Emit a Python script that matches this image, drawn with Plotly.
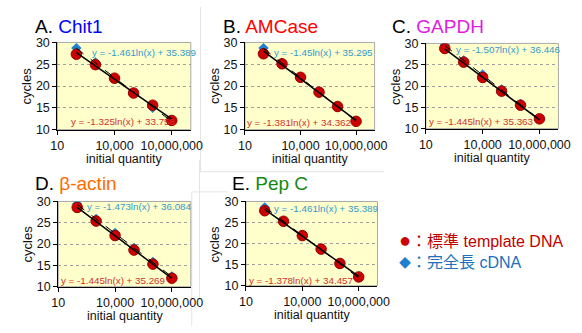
import math
import plotly.graph_objects as go

W, H = 582, 333

quantity = [100, 1000, 10000, 100000, 1000000, 10000000]

panel_letters = ["A.", "B.", "C.", "D.", "E."]
panel_genes = ["Chit1", "AMCase", "GAPDH", "β-actin", "Pep C"]
gene_colors = ["#0000FF", "#FF0000", "#E020E0", "#FF6A00", "#138A13"]

std_A = [27.3, 24.9, 21.8, 18.4, 15.6, 12.1]
std_B = [27.4, 25.1, 22.0, 18.6, 15.3, 11.9]
std_C = [28.8, 25.6, 22.0, 18.8, 15.5, 12.3]
std_D = [28.6, 25.4, 22.0, 18.6, 15.3, 12.0]
std_E = [27.8, 25.3, 21.9, 18.7, 15.3, 12.1]

cdna_A = [28.7, 25.4, 21.8, 18.4, 15.0, 12.0]
cdna_B = [28.7, 25.2, 21.9, 18.6, 15.2, 11.9]
cdna_C = [29.6, 26.0, 22.7, 19.2, 15.8, 12.2]
cdna_D = [29.4, 25.9, 22.6, 19.1, 15.8, 12.4]
cdna_E = [28.6, 25.2, 21.9, 18.6, 15.2, 12.0]

slope_std = [-1.325, -1.381, -1.445, -1.445, -1.378]
icpt_std = [33.758, 34.362, 35.363, 35.269, 34.457]
slope_cdna = [-1.461, -1.45, -1.507, -1.473, -1.461]
icpt_cdna = [35.389, 35.295, 36.446, 36.084, 35.389]

x_tick_vals = [10, 10000, 10000000]
x_tick_text = ["10", "10,000", "10,000,000"]
y_tick_vals = [10, 15, 20, 25, 30]

legend_std = "標準 template DNA"
legend_cdna = "完全長 cDNA"

std_series = [std_A, std_B, std_C, std_D, std_E]
cdna_series = [cdna_A, cdna_B, cdna_C, cdna_D, cdna_E]

FONT = "Liberation Sans, Arial, Noto Sans CJK JP, sans-serif"

# layout geometry in pixels: plot area boxes (left, right, top, bottom)
boxes = [(52, 190, 37, 128), (246, 380, 37, 128), (433, 570, 38, 127),
         (53, 190, 203, 292), (247, 383, 203, 291)]
title_pos = [(27, 20), (221, 20), (396, 20), (27, 184), (231, 184)]
eq_cdna_pos = [(86, 48), (274, 47), (462, 44), (81, 208), (274, 210)]
eq_std_pos = [(64, 120), (246, 121), (434, 120), (54, 285), (248, 285)]


def px(x):
    return x / W


def py(y):
    return 1 - y / H


fig = go.Figure()
annotations = []
shapes = []

# faint chart-area frames
frame_lines = [(200, 0, 200, 172), (200, 172, 390, 172), (199, 160, 199, 305),
               (191, 193, 191, 333), (191, 193, 228, 193)]
for x0, y0, x1, y1 in frame_lines:
    shapes.append(dict(type="line", xref="paper", yref="paper",
                       x0=px(x0), x1=px(x1), y0=py(y0), y1=py(y1),
                       line=dict(color="#e4e4e4", width=1), layer="below"))

for i in range(5):
    l, r, t, b = boxes[i]
    sfx = "" if i == 0 else str(i + 1)
    xa = "x" + sfx
    ya = "y" + sfx
    fig.update_layout(**{
        "xaxis" + sfx: dict(domain=[px(l), px(r)], anchor=ya, type="log",
                            range=[1, 8], tickvals=x_tick_vals, ticktext=x_tick_text,
                            showgrid=False, zeroline=False, showline=True,
                            linecolor="black", linewidth=1, ticks="outside",
                            ticklen=4, tickcolor="black",
                            tickfont=dict(family=FONT, size=12.5, color="#111")),
        "yaxis" + sfx: dict(domain=[py(b), py(t)], anchor=xa, range=[10, 30],
                            tickvals=y_tick_vals, showgrid=True, gridcolor="#a0a0a0",
                            griddash="dot", gridwidth=1, zeroline=False,
                            showline=True, linecolor="black", linewidth=1,
                            ticks="outside", ticklen=4, tickcolor="black",
                            tickfont=dict(family=FONT, size=12.5, color="#111")),
    })
    shapes.append(dict(type="rect", xref=xa + " domain", yref=ya + " domain",
                       x0=0, x1=1, y0=0, y1=1, fillcolor="#FFFFCC",
                       line=dict(color="#a8a8a8", width=1), layer="below"))

    # markers
    fig.add_trace(go.Scatter(x=quantity, y=cdna_series[i], mode="markers",
                             xaxis=xa, yaxis=ya, showlegend=False,
                             marker=dict(symbol="diamond", size=8, color="#1F7FD0",
                                         line=dict(width=0))))
    fig.add_trace(go.Scatter(x=quantity, y=std_series[i], mode="markers",
                             xaxis=xa, yaxis=ya, showlegend=False,
                             marker=dict(symbol="circle", size=10.5, color="#CC0000",
                                         line=dict(width=1, color="#990000"))))
    # trendlines from coefficients
    xs = [quantity[0], quantity[-1]]
    fig.add_trace(go.Scatter(x=xs, y=[slope_cdna[i] * math.log(v) + icpt_cdna[i] for v in xs],
                             mode="lines", xaxis=xa, yaxis=ya, showlegend=False,
                             line=dict(color="black", width=1, dash="dash")))
    fig.add_trace(go.Scatter(x=xs, y=[slope_std[i] * math.log(v) + icpt_std[i] for v in xs],
                             mode="lines", xaxis=xa, yaxis=ya, showlegend=False,
                             line=dict(color="black", width=1.5)))

    # equations
    ex, ey = eq_cdna_pos[i]
    annotations.append(dict(x=px(ex), y=py(ey), xref="paper", yref="paper",
                            xanchor="left", yanchor="middle", showarrow=False,
                            text=f"y = {slope_cdna[i]}ln(x) + {icpt_cdna[i]}",
                            font=dict(family=FONT, size=9.8, color="#3399CC")))
    ex, ey = eq_std_pos[i]
    annotations.append(dict(x=px(ex), y=py(ey), xref="paper", yref="paper",
                            xanchor="left", yanchor="middle", showarrow=False,
                            text=f"y = {slope_std[i]}ln(x) + {icpt_std[i]}",
                            font=dict(family=FONT, size=9.8, color="#D03030")))
    # titles
    tx, ty = title_pos[i]
    annotations.append(dict(x=px(tx), y=py(ty), xref="paper", yref="paper",
                            xanchor="left", yanchor="middle", showarrow=False,
                            text=f"{panel_letters[i]} <span style='color:{gene_colors[i]}'>{panel_genes[i]}</span>",
                            font=dict(family=FONT, size=19, color="black")))
    # axis titles
    annotations.append(dict(x=px(l - 32), y=py((t + b) / 2), xref="paper", yref="paper",
                            xanchor="center", yanchor="middle", showarrow=False,
                            textangle=-90, text="cycles",
                            font=dict(family=FONT, size=13, color="#111")))
    annotations.append(dict(x=px((l + r) / 2), y=py(b + 31), xref="paper", yref="paper",
                            xanchor="center", yanchor="middle", showarrow=False,
                            text="initial quantity",
                            font=dict(family=FONT, size=12.5, color="#111")))

# custom legend
annotations.append(dict(x=px(403), y=py(243), xref="paper", yref="paper",
                        xanchor="left", yanchor="middle", showarrow=False,
                        text=f"<span style='color:#CC0000;font-size:20px'>●</span>：{legend_std}",
                        font=dict(family=FONT, size=16, color="#C00000")))
annotations.append(dict(x=px(403), y=py(267), xref="paper", yref="paper",
                        xanchor="left", yanchor="middle", showarrow=False,
                        text=f"<span style='color:#1F7FD0;font-size:12px'>◆</span>：{legend_cdna}",
                        font=dict(family=FONT, size=16, color="#2070C0")))

fig.update_layout(width=W, height=H, margin=dict(l=0, r=0, t=0, b=0),
                  paper_bgcolor="white", plot_bgcolor="rgba(0,0,0,0)",
                  annotations=annotations, shapes=shapes)

fig.write_html("out.html", config={"displayModeBar": False},
               post_script="document.body.style.margin='0';document.body.style.overflow='hidden';")
